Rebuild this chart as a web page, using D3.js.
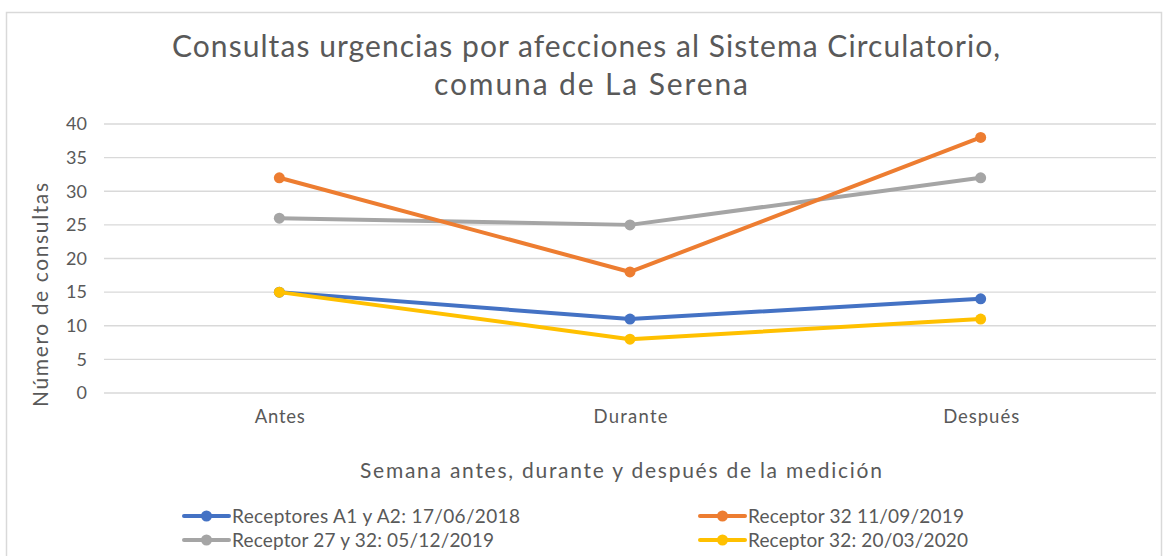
<!DOCTYPE html>
<html><head><meta charset="utf-8">
<script src="https://cdn.jsdelivr.net/npm/d3@7"></script>
<style>body{margin:0;background:#fff}svg{display:block}text{font-family:"Lato","DejaVu Sans",sans-serif;fill:#595959}</style>
</head><body><svg id="c" width="1169" height="556"></svg>
<script>
const categories = ["Antes", "Durante", "Después"];
const seriesNames = ["Receptores A1 y A2: 17/06/2018", "Receptor 32 11/09/2019", "Receptor 27 y 32: 05/12/2019", "Receptor 32: 20/03/2020"];
const seriesColors = ["#4472c4", "#ed7d31", "#a5a5a5", "#ffc000"];
const blueValues = [15, 11, 14];
const orangeValues = [32, 18, 38];
const grayValues = [26, 25, 32];
const yellowValues = [15, 8, 11];
const yTicks = [0, 5, 10, 15, 20, 25, 30, 35, 40];

const series = [
  {name: seriesNames[0], color: seriesColors[0], values: blueValues},
  {name: seriesNames[1], color: seriesColors[1], values: orangeValues},
  {name: seriesNames[2], color: seriesColors[2], values: grayValues},
  {name: seriesNames[3], color: seriesColors[3], values: yellowValues}
];
const drawOrder = [2, 1, 0, 3];

// text width fitting (to emulate the wide original typeface)
const catLabelWidth = {"Antes": 50, "Durante": 74, "Después": 76};
const legendTextWidth = [288, 216, 262, 220];

const svg = d3.select("#c");
svg.append("rect").attr("x", 6.5).attr("y", 12.5).attr("width", 1155).attr("height", 560)
  .attr("fill", "#fff").attr("stroke", "#d9d9d9").attr("stroke-width", 1.5);

const x = d3.scalePoint().domain(categories).range([104, 1156]).padding(0.5);
const y = d3.scaleLinear().domain([0, 40]).range([393, 124]);

svg.append("g").selectAll("line").data(yTicks).join("line")
  .attr("x1", 104).attr("x2", 1156).attr("y1", d => y(d)).attr("y2", d => y(d))
  .attr("stroke", "#d9d9d9").attr("stroke-width", 1.3);

const ya = svg.append("g").attr("transform", "translate(104,0)")
  .call(d3.axisLeft(y).tickValues(yTicks).tickSize(0).tickPadding(17));
ya.select(".domain").remove();
ya.selectAll("text").style("font-size", "18px").attr("fill", "#595959").style("font-family", "Lato, DejaVu Sans, sans-serif");

const xa = svg.append("g").attr("transform", "translate(0,405)")
  .call(d3.axisBottom(x).tickSize(0).tickPadding(5));
xa.select(".domain").remove();
xa.selectAll("text").style("font-size", "18.5px").attr("fill", "#595959").style("font-family", "Lato, DejaVu Sans, sans-serif")
  .attr("textLength", d => catLabelWidth[d]).attr("lengthAdjust", "spacing");

const title = svg.append("text").attr("text-anchor", "middle").style("font-size", "30px");
title.append("tspan").attr("x", 586).attr("y", 57).attr("textLength", 828).attr("lengthAdjust", "spacing")
  .text("Consultas urgencias por afecciones al Sistema Circulatorio,");
title.append("tspan").attr("x", 591).attr("y", 95).attr("textLength", 314).attr("lengthAdjust", "spacing")
  .text("comuna de La Serena");

svg.append("text").attr("text-anchor", "middle").style("font-size", "21px")
  .attr("transform", "translate(48,295) rotate(-90)").attr("textLength", 224).attr("lengthAdjust", "spacing")
  .text("Número de consultas");
svg.append("text").attr("text-anchor", "middle").style("font-size", "21px")
  .attr("x", 621).attr("y", 478).attr("textLength", 522).attr("lengthAdjust", "spacing")
  .text("Semana antes, durante y después de la medición");

const line = d3.line().x((d, i) => x(categories[i])).y(d => y(d));
drawOrder.forEach(k => {
  const s = series[k];
  const g = svg.append("g");
  g.append("path").attr("d", line(s.values)).attr("fill", "none")
    .attr("stroke", s.color).attr("stroke-width", 4).attr("stroke-linejoin", "round").attr("stroke-linecap", "round");
  g.selectAll("circle").data(s.values).join("circle")
    .attr("cx", (d, i) => x(categories[i])).attr("cy", d => y(d)).attr("r", 5.5).attr("fill", s.color);
});

const legPos = [[184, 516], [700, 516], [184, 540], [700, 540]];
series.forEach((s, k) => {
  const [lx, ly] = legPos[k];
  const g = svg.append("g");
  g.append("line").attr("x1", lx).attr("x2", lx + 45).attr("y1", ly).attr("y2", ly)
    .attr("stroke", s.color).attr("stroke-width", 4).attr("stroke-linecap", "round");
  g.append("circle").attr("cx", lx + 22.5).attr("cy", ly).attr("r", 5.5).attr("fill", s.color);
  g.append("text").attr("x", lx + 48).attr("y", ly + 7).style("font-size", "19px")
    .attr("textLength", legendTextWidth[k]).attr("lengthAdjust", "spacing").text(s.name);
});
</script></body></html>
